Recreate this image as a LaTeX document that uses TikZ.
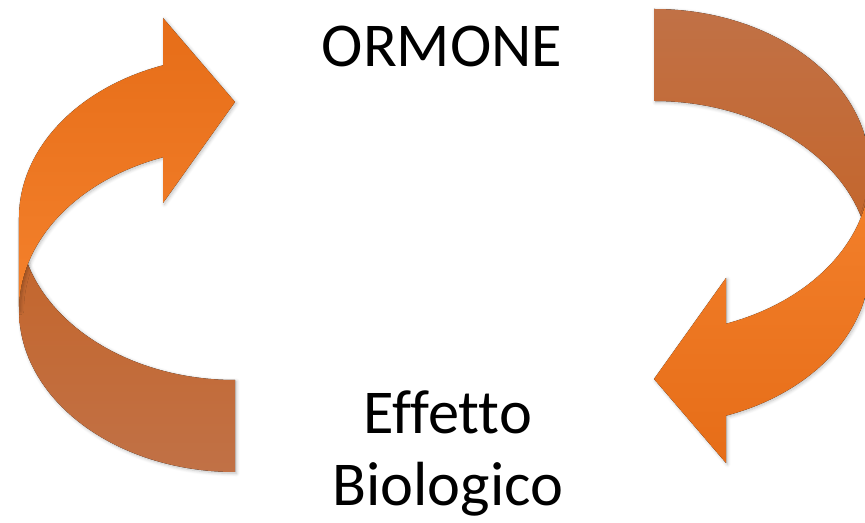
\documentclass[tikz,border=0pt]{standalone}
\usepackage{fontspec}
\setmainfont{Carlito}[Ligatures={NoCommon,NoContextual}]
\usepackage{tikz}
\usetikzlibrary{shadows.blur}
\usetikzlibrary{positioning}

\definecolor{headorange}{RGB}{230,109,24}
\definecolor{twistorange}{RGB}{244,129,44}
\definecolor{twistbrown}{RGB}{196,100,40}
\definecolor{tailbrown}{RGB}{193,113,70}

\begin{document}
\begin{tikzpicture}[x=0.02cm, y=0.02cm,
		front/.style={top color=headorange, bottom color=twistorange, shading angle=#1,
			blur shadow={shadow xshift=0.8pt, shadow yshift=-0.8pt, shadow opacity=25, shadow blur steps=6}},
		back/.style={top color=twistbrown, bottom color=tailbrown, shading angle=#1,
			blur shadow={shadow xshift=0.8pt, shadow yshift=-0.8pt, shadow opacity=25, shadow blur steps=6}},
		caption/.style={font=\fontsize{35.5}{41.4}\selectfont, inner sep=0pt, align=center}]
		\useasboundingbox (0,0) rectangle (865,523);
		\clip (0,0) rectangle (865,523);
		
		% two ribbon arrows, the second one turned half way round
		\foreach \r in {0,180}{
			\begin{scope}[rotate around={\r:(444.5,282.5)}]
				\fill[back=\r] (19,305) arc[start angle=180, end angle=270, x radius=216, y radius=162] -- (235,51) arc[start angle=270, end angle=180, x radius=216, y radius=162] -- cycle;
				\fill[front=\r] (163,457.7) arc[start angle=109.47, end angle=180, x radius=216, y radius=162] -- (19,213) arc[start angle=180, end angle=109.47, x radius=216, y radius=162] -- (163,320) -- (235,421) -- (163,505) -- cycle;
			\end{scope}
		}
		
		\node[caption, anchor=base](ormone) at (442,456) {ORMONE};
		\node[caption, anchor=base](effetto) at (448,17) {Effetto\\Biologico};
\end{tikzpicture}
\end{document}
